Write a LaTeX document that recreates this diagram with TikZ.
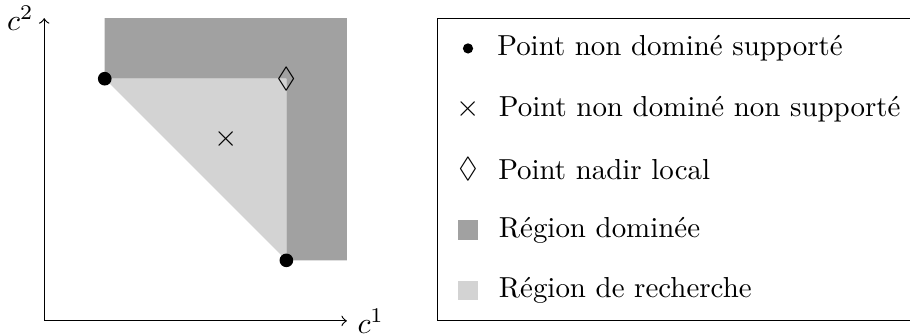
\documentclass[tikz,border=0pt]{standalone}
\usepackage{amsmath, amssymb}
\usepackage{xcolor}
\usetikzlibrary{positioning}
\definecolor{domgray}{RGB}{161,161,161}
\definecolor{rechgray}{RGB}{211,211,211}
\tikzset{
    ndpoint/.style={
        circle,
        fill=black,
        inner sep=0pt,
        minimum size=#1,
    },
    ndpoint/.default=1.6mm,
    mark sym/.style={
        inner sep=0pt,
    },
    swatch/.style={
        rectangle,
        inner sep=0pt,
        minimum size=2.3mm,
        fill=#1,
    },
    entry/.style={
        anchor=west,
        inner sep=0pt,
    },
}

\begin{document}
\begin{tikzpicture}[x=0.71cm, y=0.71cm, >=to, node distance=2.7mm,
    font=\fontsize{9.65pt}{11.6pt}\selectfont]
      \useasboundingbox (-0.73,-0.23) rectangle (14.3,5.3);

      % regions
      \fill[domgray] (1,4) -- (1,5) -- (5,5) -- (5,1) -- (4,1) -- (4,4) -- cycle;
      \fill[rechgray] (1,4) -- (4,4) -- (4,1) -- cycle;

      % axes
      \coordinate (O) at (0,0);
      \coordinate (X) at (5,0);
      \coordinate (Y) at (0,5);
      \draw[->] (O) -- (X);
      \draw[->] (O) -- (Y);
      \node (c1) [right] at (X) {$c^1$};
      \node (c2) [left] at (Y) {$c^2$};

      % points
      \node [ndpoint] (p1) at (1,4) {};
      \node [ndpoint] (p2) at (4,1) {};
      \node [mark sym] (q) at (3,3) {$\times$};
      \node [mark sym] (n) at (4,4) {$\Diamond$};

      % legend
      \draw (6.5,0) rectangle (14.35,5);
      \node [ndpoint=1.2mm] (s1) at (7,4.5) {};
      \node [entry, right=of s1] (l1) {Point non dominé supporté};
      \node [mark sym] (s2) at (7,3.5) {$\times$};
      \node [entry] (l2) at (7.5,3.5) {Point non dominé non supporté};
      \node [mark sym] (s3) at (7,2.5) {$\Diamond$};
      \node [entry] (l3) at (7.49,2.5) {Point nadir local};
      \node [swatch=domgray] (s4) at (7,1.5) {};
      \node [entry] (l4) at (7.5,1.5) {Région dominée};
      \node [swatch=rechgray] (s5) at (7,0.5) {};
      \node [entry] (l5) at (7.5,0.5) {Région de recherche};
    \end{tikzpicture}
\end{document}
